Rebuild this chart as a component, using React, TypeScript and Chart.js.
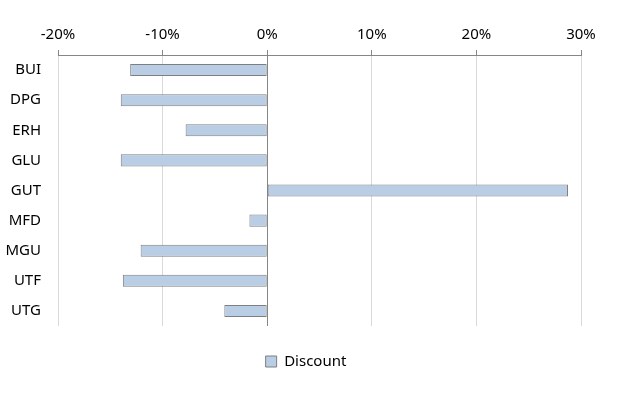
import React, { useEffect, useRef } from "react";
import { Chart, registerables } from "chart.js";

Chart.register(...registerables);

const categories = ["BUI", "DPG", "ERH", "GLU", "GUT", "MFD", "MGU", "UTF", "UTG"];
const discount = [-0.131, -0.14, -0.078, -0.14, 0.2876, -0.017, -0.121, -0.138, -0.041];
const seriesName = "Discount";
const xMin = -0.2;
const xMax = 0.3;
const xStep = 0.1;

const FONT = "'Noto Sans', sans-serif";

export default function App() {
  const ref = useRef<HTMLCanvasElement | null>(null);
  useEffect(() => {
    document.body.style.margin = "0";
    const canvas = ref.current;
    if (!canvas) return;
    const chart = new Chart(canvas, {
      type: "bar",
      data: {
        labels: categories,
        datasets: [
          {
            label: seriesName,
            data: discount,
            backgroundColor: "#b9cde5",
            borderColor: "#7f7f7f",
            borderWidth: 1,
            borderSkipped: false,
            barPercentage: 0.4,
            categoryPercentage: 1,
            xAxisID: "x",
            yAxisID: "y",
          },
        ],
      },
      options: {
        indexAxis: "y",
        responsive: false,
        animation: false,
        maintainAspectRatio: false,
        layout: { padding: { left: 0, right: 17, top: 0, bottom: 29 } },
        plugins: {
          tooltip: { enabled: false },
          legend: {
            position: "bottom",
            labels: {
              boxWidth: 11,
              boxHeight: 11,
              padding: 8,
              color: "#000",
              font: { family: FONT, size: 15 },
            },
          },
        },
        scales: {
          x: {
            type: "linear",
            position: "top",
            min: xMin,
            max: xMax,
            ticks: {
              stepSize: xStep,
              padding: 6,
              color: "#000",
              font: { family: FONT, size: 15 },
              callback: (v: any) => Math.round(Number(v) * 100) + "%",
            },
            grid: {
              color: (ctx: any) => (ctx.tick && Math.abs(ctx.tick.value) < 1e-9 ? "#868686" : "#d9d9d9"),
              lineWidth: 1,
              tickLength: 5,
              tickColor: "#868686",
            },
            border: { display: true, color: "#868686" },
            afterFit: (s: any) => {
              s.height = 55;
            },
          },
          x2: {
            type: "linear",
            position: "bottom",
            display: true,
            ticks: { display: false },
            grid: { display: false, drawTicks: false },
            border: { display: false },
            afterFit: (s: any) => {
              s.height = 20;
            },
          },
          y: {
            position: "left",
            ticks: {
              padding: 17,
              color: "#000",
              font: { family: FONT, size: 15 },
            },
            grid: { display: false, drawTicks: false },
            border: { display: false },
            afterFit: (s: any) => {
              s.width = 58;
            },
          },
          y2: {
            type: "linear",
            position: "right",
            display: true,
            ticks: { display: false },
            grid: { display: false, drawTicks: false },
            border: { display: false },
            afterFit: (s: any) => {
              s.width = 31;
            },
          },
        },
      },
    } as any);
    return () => chart.destroy();
  }, []);
  return (
    <div style={{ width: 629, height: 408 }}>
      <canvas ref={ref} width={629} height={408} style={{ width: 629, height: 408 }} />
    </div>
  );
}
